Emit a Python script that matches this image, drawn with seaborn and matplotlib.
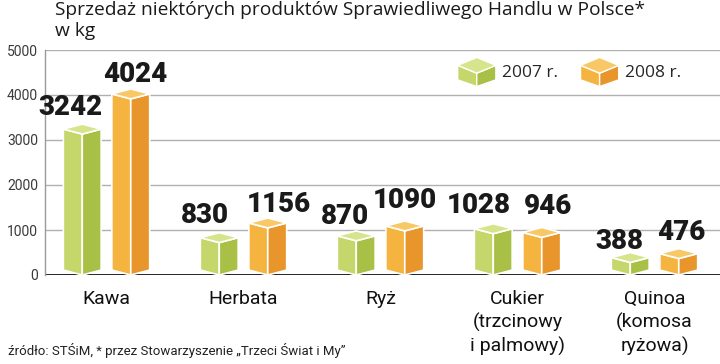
import matplotlib
matplotlib.use("Agg")
import matplotlib.pyplot as plt
import matplotlib.colors as mcolors
from matplotlib.patches import Polygon, Patch
from matplotlib.legend_handler import HandlerBase
import seaborn as sns
import pandas as pd

# Data
categories = ["Kawa", "Herbata", "Ryż", "Cukier\n(trzcinowy\ni palmowy)", "Quinoa\n(komosa\nryżowa)"]
years = ["2007 r.", "2008 r."]
sales_2007 = [3242, 830, 870, 1028, 388]
sales_2008 = [4024, 1156, 1090, 946, 476]
y_ticks = [0, 1000, 2000, 3000, 4000, 5000]

# hand-placed value labels in the original: nudges in pixels (x, y above the prism top)
nudge_2007 = [(-12, 9), (-14, 10), (-11, 7), (-15, 11), (-11, 4)]
nudge_2008 = [(5, 7), (11, 6), (0, 13), (6, 13), (3, 9)]

# face colours: (left/front, right/shade, top)
GREEN = ("#c5d76b", "#a8c045", "#d6e48c")
ORANGE = ("#f5b43f", "#e8952b", "#f8c866")
D = 110  # half-height of the top rhombus in data units

df = pd.DataFrame({
    "Produkt": categories * 2,
    "Rok": [years[0]] * len(categories) + [years[1]] * len(categories),
    "kg": sales_2007 + sales_2008,
})

sns.set_theme(style="white")
plt.rcParams["font.family"] = ["Roboto", "DejaVu Sans"]

fig = plt.figure(figsize=(7.2, 3.64), dpi=100)
ax = fig.add_axes([45 / 720, 1 - 275 / 364, 675 / 720, 225 / 364])

sns.barplot(data=df, x="Produkt", y="kg", hue="Rok", palette=[GREEN[0], ORANGE[0]],
            saturation=1, width=0.708, gap=0.22, legend=False, ax=ax, zorder=3)

ax.set_ylim(0, 5000)
ax.set_xlim(-0.449, 4.478)
ax.set_yticks(y_ticks)
ax.set_yticklabels([str(t) for t in y_ticks], fontsize=10, color="#3a3a3a")
ax.set_xticks(range(len(categories)))
ax.set_xticklabels(categories, fontsize=14, color="#111111", linespacing=1.3)
ax.tick_params(axis="y", length=0, pad=5)
ax.tick_params(axis="x", length=0, pad=11)
ax.set_xlabel("")
ax.set_ylabel("")

for s in ["top", "right", "bottom"]:
    ax.spines[s].set_visible(False)
ax.spines["left"].set_color("#999999")
ax.spines["left"].set_linewidth(1)
for t in y_ticks[1:]:
    ax.axhline(t, color="#b0b0b0", lw=1, zorder=1)
ax.axhline(0, color="#111111", lw=2, zorder=2)

# turn flat bars into prisms
bars = list(ax.patches)
n = len(categories)
for i, p in enumerate(bars):
    x0, w, h = p.get_x(), p.get_width(), p.get_height()
    xm, x1 = x0 + w / 2, x0 + w
    cols = GREEN if i < n else ORANGE
    dx, dy = nudge_2007[i] if i < n else nudge_2008[i - n]
    p.set_visible(False)
    faces = [
        ([(x0, D), (x0, h), (xm, h - D), (xm, 0)], cols[0]),
        ([(xm, 0), (xm, h - D), (x1, h), (x1, D)], cols[1]),
        ([(x0, h), (xm, h + D), (x1, h), (xm, h - D)], cols[2]),
    ]
    for verts, c in faces:
        ax.add_patch(Polygon(verts, closed=True, facecolor=c, edgecolor="white",
                             lw=1.2, zorder=4, joinstyle="round"))
    ax.annotate(f"{int(round(h))}", (xm, h + D), xytext=(dx, dy), textcoords="offset pixels",
                ha="center", va="baseline", fontsize=20, fontweight="heavy",
                color="#1a1a1a", zorder=5)


class CubeHandler(HandlerBase):
    def create_artists(self, legend, orig_handle, xdescent, ydescent, width, height, fontsize, trans):
        green = mcolors.to_rgba(GREEN[0])
        cols = GREEN if mcolors.same_color(orig_handle.get_facecolor(), green) else ORANGE
        x0, y0 = -xdescent, -ydescent
        w, h = width, height
        xm = x0 + w / 2
        pts = [
            ([(x0, y0 + 0.73 * h), (xm, y0 + 0.46 * h), (xm, y0), (x0, y0 + 0.23 * h)], cols[0]),
            ([(xm, y0 + 0.46 * h), (x0 + w, y0 + 0.73 * h), (x0 + w, y0 + 0.23 * h), (xm, y0)], cols[1]),
            ([(x0, y0 + 0.73 * h), (xm, y0 + h), (x0 + w, y0 + 0.73 * h), (xm, y0 + 0.46 * h)], cols[2]),
        ]
        return [Polygon(v, closed=True, facecolor=c, edgecolor="white", lw=1, transform=trans)
                for v, c in pts]


handles = [Patch(facecolor=GREEN[0], label=years[0]), Patch(facecolor=ORANGE[0], label=years[1])]
fig.legend(handles=handles, handler_map={Patch: CubeHandler()}, ncol=2, frameon=False,
           loc="center left", bbox_to_anchor=(449 / 720, 1 - 72 / 364),
           prop={"family": ["Open Sans", "DejaVu Sans"], "size": 12.5},
           handlelength=2.2, handleheight=2.2, handletextpad=0.35,
           columnspacing=1.3, borderpad=0)

fig.text(55 / 720, 1 - 1 / 364, "Sprzedaż niektórych produktów Sprawiedliwego Handlu w Polsce*\nw kg",
         ha="left", va="top", fontsize=13.8, family=["Open Sans", "DejaVu Sans"],
         color="#1a1a1a", linespacing=1.2)
fig.text(8 / 720, 1 - 355 / 364, "źródło: STŚiM, * przez Stowarzyszenie „Trzeci Świat i My”",
         ha="left", va="baseline", fontsize=9.5, color="#222222")

fig.savefig("out.png", dpi=100)
